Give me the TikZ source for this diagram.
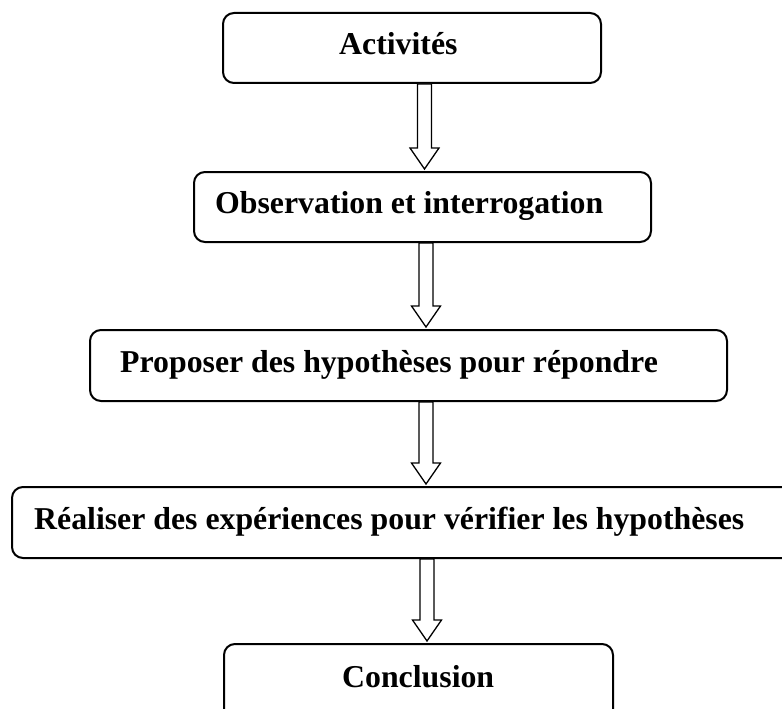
\documentclass[tikz,border=0pt]{standalone}
\usepackage{fontspec}
\setmainfont{Liberation Serif}
\usetikzlibrary{calc}
\tikzset{
  stepbox/.style={draw=black, line width=2pt, rounded corners=11pt, fill=white, inner sep=0pt, anchor=north west},
  lbl/.style={font=\fontsize{31.8}{36}\selectfont\bfseries, inner sep=0pt, anchor=base west},
  hollowarrow/.style={draw=black, line width=1.3pt, fill=white, line join=miter}
}
\newcommand\blockarrow[3]{%
  \draw[hollowarrow] let \p1=(#1.south), \p2=(#2.north), \p3=(#3) in
    (\x3-7pt,\y1) -- (\x3+7pt,\y1) -- (\x3+7pt,\y2+23pt) -- (\x3+14.5pt,\y2+23pt)
    -- (\x3,\y2+2pt) -- (\x3-14.5pt,\y2+23pt) -- (\x3-7pt,\y2+23pt) -- cycle;}
\begin{document}
\begin{tikzpicture}[x=1pt,y=-1pt]
\path[use as bounding box] (0,0) rectangle (782,709);
\clip (0,0) rectangle (782,709);
\node[stepbox, minimum width=378pt, minimum height=70pt] (b1) at (222,12) {};
\node[stepbox, minimum width=457pt, minimum height=70pt] (b2) at (193,171) {};
\node[stepbox, minimum width=637pt, minimum height=71pt] (b3) at (89,329) {};
\node[stepbox, minimum width=800pt, minimum height=71pt] (b4) at (11,486) {};
\node[stepbox, minimum width=389pt, minimum height=80pt] (b5) at (223,643) {};
\node[lbl] (t1) at (339,55) {Activités};
\node[lbl] (t2) at (215,213) {Observation et interrogation};
\node[lbl] (t3) at (120,372) {Proposer des hypothèses pour répondre};
\node[lbl] (t4) at (34,529) {Réaliser des expériences pour vérifier les hypothèses};
\node[lbl] (t5) at (342,687) {Conclusion};
\coordinate (x1) at (424.5,0);
\coordinate (x2) at (426,0);
\coordinate (x3) at (426,0);
\coordinate (x4) at (427,0);
\blockarrow{b1}{b2}{x1}
\blockarrow{b2}{b3}{x2}
\blockarrow{b3}{b4}{x3}
\blockarrow{b4}{b5}{x4}
\end{tikzpicture}
\end{document}
